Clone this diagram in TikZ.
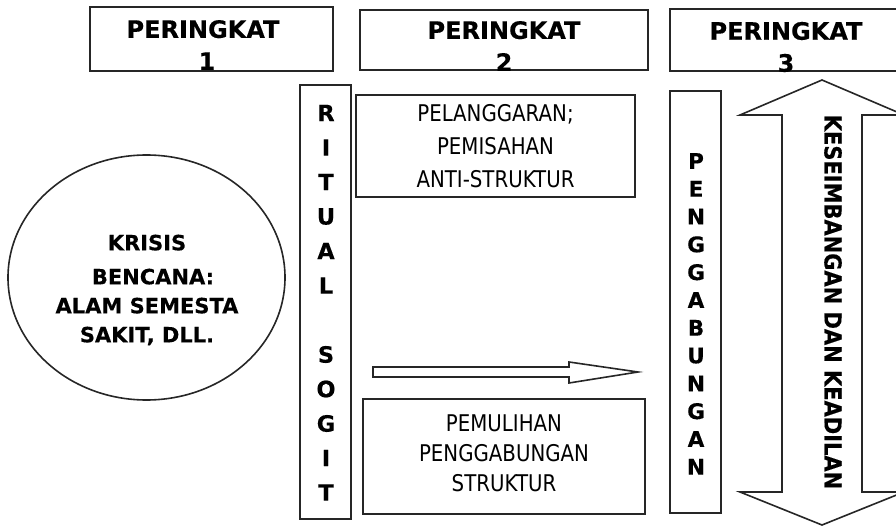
\documentclass[tikz,border=0pt]{standalone}
\usepackage{fontspec}
\setmainfont{DejaVu Sans}[BoldFeatures={FakeBold=0.3}]
\newfontfamily\tahfont[FakeStretch=0.86]{DejaVu Sans}
\newfontfamily\boldc[FakeStretch=0.9,BoldFeatures={FakeBold=0.3}]{DejaVu Sans}
\usetikzlibrary{shapes.geometric}
\begin{document}
\begin{tikzpicture}[x=1pt,y=-1pt,
  frame/.style={draw=black!85, line width=1.6pt, inner sep=0pt, outer sep=0pt},
  head/.style={font=\bfseries\fontsize{24}{32}\selectfont, align=center, inner sep=0pt},
  plain/.style={font=\tahfont\fontsize{23}{33}\selectfont, align=center, inner sep=0pt},
  plainb/.style={font=\tahfont\fontsize{23}{30}\selectfont, align=center, inner sep=0pt},
  letter/.style={font=\bfseries\fontsize{22.5}{22.5}\selectfont, inner sep=0pt},
  bigarrow/.style={draw=black!85, line width=1.6pt, fill=white, line join=miter}]
\useasboundingbox (0,0) rectangle (896,526);
\clip (0,0) rectangle (896,526);

% level headers
\node[frame, minimum width=243, minimum height=64] (p1) at (211.5,39) {};
\node[head] (p1t) at (203,45) {PERINGKAT\\\hspace*{8pt}1};
\node[frame, minimum width=288, minimum height=60] (p2) at (504,40) {};
\node[head] (p2t) at (504,46) {PERINGKAT\\2};
\node[frame, minimum width=232, minimum height=62] (p3) at (786,40) {};
\node[head] (p3t) at (786,47) {PERINGKAT\\3};

% crisis ellipse
\node[frame, ellipse, minimum width=277, minimum height=245] (krisis) at (146.5,277.5) {};
\node[font=\bfseries\fontsize{21}{29}\selectfont, align=center, inner sep=0pt] (krisist) at (147,290)
  {KRISIS\\[5pt]\hspace*{12pt}BENCANA:\\ALAM SEMESTA\\SAKIT, DLL.};

% ritual sogit column
\node[frame, minimum width=51, minimum height=434] (ritual) at (325.5,302) {};
\foreach \l/\k in {R/0,I/1,T/2,U/3,A/4,L/5,S/7,O/8,G/9,I/10,T/11}
  \node[letter] (rs\k) at (326,{113+34.5*\k}) {\l};

% level 2 boxes
\node[frame, plain, minimum width=279, minimum height=102] (langgar) at (495.5,146)
  {PELANGGARAN;\\PEMISAHAN\\ANTI-STRUKTUR};
\node[frame, minimum width=282, minimum height=115] (pulih) at (504,456.5) {};
\node[plainb] (puliht) at (504,453) {PEMULIHAN\\PENGGABUNGAN\\STRUKTUR};

% right arrow
\coordinate (atail) at (373,372);
\coordinate (atip) at (638,372);
\draw[bigarrow] (atail) ++(0,-5) -- (569,367) -- (569,362) -- (atip) -- (569,383) -- (569,377) -- (373,377) -- cycle;

% penggabungan column
\node[frame, minimum width=51, minimum height=422] (gabung) at (695.5,302) {};
\foreach \l/\k in {P/0,E/1,N/2,G/3,G/4,A/5,B/6,U/7,N/8,G/9,A/10,N/11}
  \node[letter, font=\bfseries\fontsize{21.5}{21.5}\selectfont] (pg\k) at (696,{161+27.8*\k}) {\l};

% double arrow
\draw[bigarrow] (822,80) -- (904,115) -- (862,115) -- (862,492) -- (904,492) -- (822,525)
  -- (740,492) -- (782,492) -- (782,115) -- (740,115) -- cycle;
\node[font=\boldc\bfseries\fontsize{23.3}{23.3}\selectfont, rotate=-90, inner sep=0pt] (adil) at (833,302)
  {KESEIMBANGAN DAN KEADILAN};
\end{tikzpicture}
\end{document}
